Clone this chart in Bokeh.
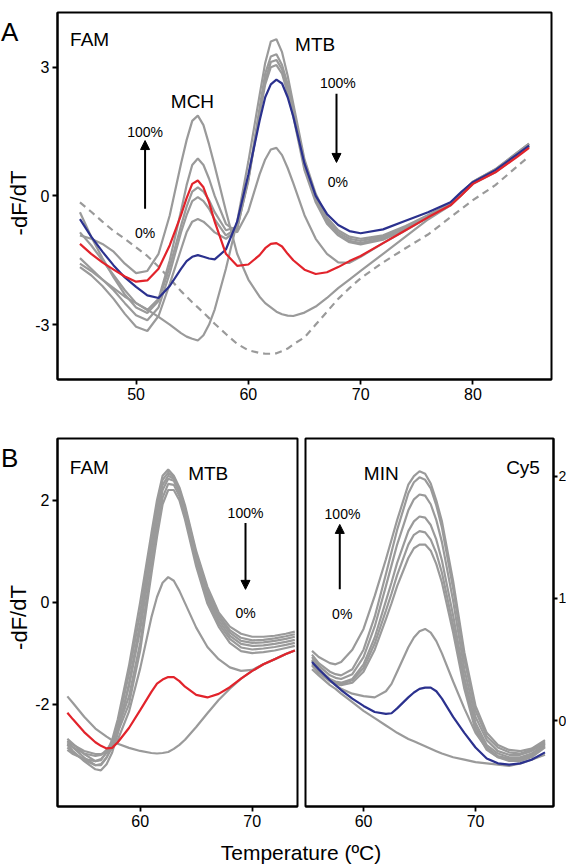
from bokeh.plotting import figure
from bokeh.models import Range1d, Label, Arrow, NormalHead, FixedTicker
from bokeh.layouts import column, row
from bokeh.embed import file_html
from bokeh.resources import INLINE

FONT = "Liberation Sans"
GRAY = "#9a9a9a"
RED = "#e2232b"
BLUE = "#2b318e"

# ---------------- Panel A (FAM: MCH + MTB) ----------------
A_TEMP = [45, 46, 47, 48, 49, 50, 51, 52, 53, 54, 54.5, 55, 55.5, 56, 56.5, 57, 58, 59, 60, 61,
          61.5, 62, 62.5, 63, 63.5, 64, 65, 66, 67, 68, 69, 70, 72, 74, 76, 78, 79, 80, 82, 84, 85]
A_BLANK = [-0.15, -0.37, -0.6, -0.82, -1.0, -1.2, -1.4, -1.65, -1.93, -2.22, -2.35, -2.48, -2.6, -2.72, -2.85, -2.98, -3.22, -3.45, -3.6, -3.66,
           -3.68, -3.68, -3.67, -3.62, -3.56, -3.46, -3.3, -3.0, -2.7, -2.4, -2.15, -1.92, -1.55, -1.22, -0.9, -0.5, -0.3, -0.1, 0.25, 0.7, 0.92]
A_G1 = [-0.92, -1.0, -1.12, -1.3, -1.58, -1.8, -1.75, -1.35, -0.45, 0.75, 1.3, 1.75, 1.87, 1.65, 1.2, 0.7, -0.35, -1.35, -1.95, -2.35,
        -2.5, -2.6, -2.7, -2.76, -2.79, -2.8, -2.72, -2.58, -2.38, -2.15, -1.95, -1.75, -1.35, -0.95, -0.55, -0.22, 0.02, 0.28, 0.55, 0.95, 1.15]
A_G2 = [-0.85, -1.15, -1.5, -1.85, -2.2, -2.5, -2.66, -2.4, -1.5, -0.35, 0.25, 0.72, 0.87, 0.72, 0.4, 0.0, -0.65, -0.85, -0.35, 0.5,
        0.85, 1.08, 1.12, 0.95, 0.65, 0.3, -0.45, -1.0, -1.35, -1.55, -1.56, -1.42, -1.1, -0.8, -0.5, -0.2, 0.05, 0.3, 0.57, 0.95, 1.15]
A_G3 = [-0.38, -0.95, -1.45, -1.9, -2.3, -2.6, -2.73, -2.45, -1.65, -0.7, -0.25, 0.1, 0.2, 0.1, -0.1, -0.38, -0.8, -0.72, 0.4, 1.9,
        2.6, 3.0, 3.05, 2.85, 2.4, 1.85, 0.6, -0.15, -0.65, -0.92, -1.08, -1.13, -1.02, -0.78, -0.5, -0.22, 0.05, 0.3, 0.58, 0.98, 1.17]
A_G4 = [-1.45, -1.7, -1.95, -2.2, -2.5, -2.78, -2.9, -2.6, -1.8, -0.85, -0.45, -0.12, -0.03, -0.12, -0.3, -0.55, -0.92, -0.75, 0.35, 1.95,
        2.7, 3.12, 3.17, 2.95, 2.5, 1.95, 0.7, -0.1, -0.6, -0.9, -1.05, -1.1, -0.98, -0.75, -0.48, -0.2, 0.07, 0.32, 0.6, 1.0, 1.2]
A_G5 = [-1.66, -1.85, -2.1, -2.4, -2.75, -3.05, -3.15, -2.8, -2.05, -1.25, -0.85, -0.6, -0.54, -0.6, -0.72, -0.85, -1.0, -0.78, 0.4, 2.05,
        2.85, 3.25, 3.3, 3.05, 2.6, 2.05, 0.78, -0.05, -0.55, -0.85, -1.0, -1.05, -0.95, -0.72, -0.45, -0.18, 0.08, 0.33, 0.62, 1.02, 1.22]
A_G6 = [-1.58, -1.75, -1.95, -2.15, -2.35, -2.5, -2.65, -2.82, -3.0, -3.2, -3.28, -3.33, -3.37, -3.25, -3.0, -2.65, -1.7, -0.6, 0.8, 2.35,
        3.1, 3.6, 3.65, 3.35, 2.8, 2.15, 0.85, 0.05, -0.5, -0.8, -0.95, -1.0, -0.92, -0.7, -0.45, -0.18, 0.08, 0.33, 0.62, 1.02, 1.22]
A_BLUE = [-0.54, -0.95, -1.3, -1.62, -1.9, -2.12, -2.32, -2.38, -2.1, -1.7, -1.52, -1.42, -1.38, -1.42, -1.46, -1.48, -1.25, -0.6, 0.5, 1.75,
          2.3, 2.6, 2.71, 2.62, 2.3, 1.85, 0.75, 0.0, -0.42, -0.68, -0.82, -0.87, -0.78, -0.58, -0.38, -0.15, 0.1, 0.32, 0.6, 0.98, 1.17]
A_RED = [-1.12, -1.35, -1.55, -1.72, -1.88, -2.0, -1.97, -1.7, -1.15, -0.45, -0.05, 0.28, 0.36, 0.2, -0.15, -0.6, -1.35, -1.63, -1.6, -1.38,
         -1.22, -1.12, -1.1, -1.18, -1.35, -1.5, -1.72, -1.82, -1.78, -1.66, -1.52, -1.4, -1.1, -0.8, -0.5, -0.22, 0.02, 0.28, 0.55, 0.92, 1.12]
A_XTICKS = [50, 60, 70, 80]
A_YTICKS = [-3, 0, 3]

# ---------------- Panel B left (FAM: MTB) ----------------
B_TEMP = [53.5, 54, 55, 56, 56.5, 57, 57.5, 58, 59, 60, 61, 61.5, 62, 62.5, 63, 63.5, 64, 65, 66, 67,
          68, 69, 70, 71, 72, 73, 73.8]
B_H1 = [-2.68, -2.78, -2.98, -3.12, -3.1, -2.95, -2.7, -2.3, -1.25, 0.0, 1.35, 2.0, 2.48, 2.6, 2.48, 2.25, 1.9, 1.0, 0.3, -0.2,
        -0.48, -0.62, -0.68, -0.68, -0.66, -0.62, -0.58]
B_H2 = [-2.75, -2.85, -3.05, -3.2, -3.2, -3.05, -2.8, -2.42, -1.4, -0.2, 1.2, 1.88, 2.4, 2.54, 2.45, 2.2, 1.85, 0.95, 0.25, -0.25,
        -0.55, -0.7, -0.75, -0.74, -0.71, -0.67, -0.63]
B_H3 = [-2.8, -2.92, -3.12, -3.28, -3.3, -3.18, -2.95, -2.58, -1.6, -0.4, 1.05, 1.72, 2.3, 2.48, 2.42, 2.18, 1.8, 0.9, 0.18, -0.3,
        -0.6, -0.76, -0.8, -0.79, -0.76, -0.72, -0.68]
B_H4 = [-2.85, -2.95, -3.1, -3.2, -3.18, -3.05, -2.85, -2.5, -1.65, -0.55, 0.9, 1.6, 2.2, 2.42, 2.38, 2.15, 1.75, 0.85, 0.12, -0.36,
        -0.66, -0.82, -0.86, -0.85, -0.82, -0.78, -0.74]
B_H5 = [-2.9, -2.98, -3.08, -3.12, -3.08, -2.95, -2.75, -2.48, -1.85, -0.8, 0.7, 1.42, 2.05, 2.32, 2.3, 2.08, 1.7, 0.78, 0.05, -0.42,
        -0.72, -0.89, -0.93, -0.91, -0.88, -0.84, -0.8]
B_H6 = [-2.78, -2.85, -2.97, -3.02, -3.0, -2.9, -2.75, -2.55, -2.0, -0.95, 0.55, 1.28, 1.92, 2.2, 2.2, 2.0, 1.62, 0.7, -0.03, -0.48,
        -0.8, -0.96, -1.0, -0.98, -0.95, -0.9, -0.86]
B_MID = [-2.72, -2.8, -2.92, -2.98, -2.98, -2.95, -2.88, -2.7, -2.15, -1.3, -0.3, 0.1, 0.38, 0.49, 0.42, 0.22, -0.02, -0.5, -0.88, -1.12,
         -1.28, -1.35, -1.33, -1.22, -1.12, -1.02, -0.95]
B_FLAT = [-1.85, -1.98, -2.25, -2.48, -2.56, -2.64, -2.71, -2.78, -2.86, -2.92, -2.96, -2.97, -2.96, -2.94, -2.88, -2.8, -2.7, -2.45, -2.18, -1.92,
          -1.7, -1.5, -1.35, -1.22, -1.12, -1.02, -0.95]
B_RED = [-2.17, -2.3, -2.55, -2.75, -2.82, -2.87, -2.86, -2.75, -2.47, -2.12, -1.76, -1.6, -1.52, -1.47, -1.47, -1.55, -1.66, -1.82, -1.87, -1.8,
         -1.67, -1.5, -1.35, -1.22, -1.12, -1.02, -0.95]
B_XTICKS = [60, 70]
B_YTICKS = [-2, 0, 2]

# ---------------- Panel B right (Cy5: MIN) ----------------
C_TEMP = [55.4, 56, 57, 57.5, 58, 59, 60, 61, 62, 62.5, 63, 64, 64.5, 65, 65.5, 66, 66.5, 67, 68, 69,
          70, 71, 72, 73, 74, 75, 76.2]
C_P1 = [0.57, 0.52, 0.47, 0.46, 0.48, 0.58, 0.75, 1.02, 1.32, 1.48, 1.64, 1.93, 2.0, 2.04, 2.02, 1.94, 1.8, 1.63, 1.14, 0.56,
        0.12, -0.1, -0.2, -0.24, -0.25, -0.23, -0.16]
C_P2 = [0.54, 0.47, 0.4, 0.38, 0.37, 0.42, 0.58, 0.85, 1.2, 1.38, 1.56, 1.86, 1.95, 1.99, 1.97, 1.9, 1.76, 1.58, 1.08, 0.5,
        0.08, -0.13, -0.22, -0.26, -0.27, -0.24, -0.17]
C_P3 = [0.52, 0.45, 0.37, 0.35, 0.34, 0.38, 0.52, 0.77, 1.1, 1.27, 1.44, 1.72, 1.81, 1.85, 1.84, 1.77, 1.64, 1.46, 0.98, 0.42,
        0.03, -0.16, -0.25, -0.28, -0.28, -0.25, -0.18]
C_P4 = [0.49, 0.42, 0.34, 0.32, 0.31, 0.34, 0.46, 0.68, 0.98, 1.13, 1.29, 1.55, 1.63, 1.67, 1.66, 1.6, 1.48, 1.31, 0.86, 0.35,
        -0.02, -0.2, -0.27, -0.3, -0.3, -0.27, -0.19]
C_P5 = [0.46, 0.4, 0.33, 0.31, 0.3, 0.33, 0.43, 0.63, 0.9, 1.04, 1.19, 1.44, 1.52, 1.55, 1.54, 1.48, 1.37, 1.21, 0.78, 0.3,
        -0.05, -0.22, -0.29, -0.31, -0.31, -0.28, -0.2]
C_P6 = [0.45, 0.39, 0.32, 0.3, 0.29, 0.31, 0.4, 0.58, 0.83, 0.96, 1.1, 1.33, 1.41, 1.44, 1.44, 1.39, 1.28, 1.13, 0.72, 0.26,
        -0.08, -0.24, -0.3, -0.32, -0.32, -0.29, -0.21]
C_MID = [0.5, 0.43, 0.33, 0.29, 0.26, 0.22, 0.2, 0.19, 0.24, 0.3, 0.4, 0.6, 0.68, 0.73, 0.75, 0.72, 0.65, 0.55, 0.32, 0.1,
         -0.1, -0.23, -0.3, -0.33, -0.33, -0.3, -0.22]
C_BLUE = [0.48, 0.42, 0.33, 0.29, 0.25, 0.18, 0.12, 0.07, 0.055, 0.06, 0.1, 0.19, 0.23, 0.26, 0.27, 0.27, 0.24, 0.18, 0.03, -0.1,
          -0.22, -0.31, -0.35, -0.36, -0.35, -0.32, -0.26]
C_FLAT = [0.42, 0.37, 0.29, 0.26, 0.22, 0.15, 0.08, 0.02, -0.04, -0.07, -0.1, -0.15, -0.17, -0.19, -0.21, -0.23, -0.25, -0.27, -0.3, -0.32,
          -0.34, -0.35, -0.36, -0.37, -0.35, -0.32, -0.28]
C_XTICKS = [60, 70]
C_YTICKS = [0, 1, 2]

# pixel layout
A_TOP, A_FH, A_BOT = 12, 367, 40       # panel A: top border, frame height, bottom border
B_TOP, B_FH, B_BOT = 19, 368, 26       # panel B: top border, frame height, bottom border
ROW1 = A_TOP + A_FH + A_BOT            # 419
ROW2 = B_TOP + B_FH + B_BOT            # 413
TTL_H = 864 - ROW1 - ROW2              # 32


def make_fig(xr, yr, fw, fh, mbl, mbr, mbt, mbb, xticks, yticks, y_loc="left"):
    p = figure(title=None, x_range=Range1d(*xr), y_range=Range1d(*yr), frame_width=fw, frame_height=fh,
               min_border_left=mbl, min_border_right=mbr, min_border_top=mbt, min_border_bottom=mbb,
               output_backend="svg", toolbar_location=None, y_axis_location=y_loc)
    p.grid.visible = False
    p.outline_line_color = "black"
    p.outline_line_width = 2
    p.outline_line_alpha = 1.0
    p.background_fill_color = "white"
    p.border_fill_color = "white"
    p.xaxis.ticker = FixedTicker(ticks=xticks)
    p.yaxis.ticker = FixedTicker(ticks=yticks)
    p.xaxis.major_label_overrides = {t: str(t) for t in xticks}
    p.yaxis.major_label_overrides = {t: str(t) for t in yticks}
    for ax in p.axis:
        ax.axis_line_width = 2
        ax.axis_line_color = "black"
        ax.major_tick_line_width = 1.8
        ax.major_tick_line_color = "black"
        ax.major_tick_out = 5
        ax.major_tick_in = 0
        ax.minor_tick_line_color = None
        ax.major_label_text_font = FONT
        ax.major_label_text_font_size = "16px"
        ax.major_label_text_color = "black"
        ax.major_label_standoff = 3
        ax.axis_label_standoff = 0
    return p


def text_fig(w, fh, mbt=0, mbb=0):
    # a bare figure (no title, no axes) used only to hold texts; y in pixels up from its frame bottom
    p = figure(title=None, x_range=Range1d(0, w), y_range=Range1d(0, fh), frame_width=w, frame_height=fh,
               min_border_left=0, min_border_right=0, min_border_top=mbt, min_border_bottom=mbb,
               output_backend="svg", toolbar_location=None, x_axis_location=None, y_axis_location=None)
    p.grid.visible = False
    p.outline_line_color = None
    p.background_fill_color = "white"
    p.border_fill_color = "white"
    return p


def lab(p, x, y, text, size, align="center", baseline="alphabetic", angle=0.0):
    p.add_layout(Label(x=x, y=y, text=text, text_font=FONT, text_font_size=f"{size}px",
                       text_align=align, text_baseline=baseline, angle=angle, text_color="black"))


def arrow(p, x, y0, y1):
    p.add_layout(Arrow(end=NormalHead(size=9, fill_color="black", line_color="black", line_width=1),
                       x_start=x, y_start=y0, x_end=x, y_end=y1, line_width=2, line_color="black"))


LW = 2.2

# ---- Panel A ----
pa = make_fig((43, 87), (-4.28, 4.275), 494, A_FH, 24, 14, A_TOP, A_BOT, A_XTICKS, A_YTICKS)
for ys in (A_G1, A_G2, A_G3, A_G4, A_G5, A_G6):
    pa.line(A_TEMP, ys, line_color=GRAY, line_width=LW)
pa.line(A_TEMP, A_BLANK, line_color=GRAY, line_width=LW, line_dash="7 5")
pa.line(A_TEMP, A_BLUE, line_color=BLUE, line_width=LW)
pa.line(A_TEMP, A_RED, line_color=RED, line_width=LW)
lab(pa, 44.12, 3.64, "FAM", 19, align="left")
lab(pa, 65.95, 3.52, "MTB", 19)
lab(pa, 55.02, 2.2, "MCH", 19)
lab(pa, 50.8, 1.5, "100%", 14)
lab(pa, 50.8, -0.86, "0%", 14)
arrow(pa, 50.8, -0.30, 1.29)
lab(pa, 67.97, 2.63, "100%", 14)
lab(pa, 67.97, 0.33, "0%", 14)
arrow(pa, 67.85, 2.38, 0.78)

# left strip of panel A (same vertical structure as panel A; y = pixels above the frame bottom at 379)
ta = text_fig(32, A_FH, A_TOP, A_BOT)
lab(ta, 0.5, 379 - 31, "A", 26, align="left")
lab(ta, 18.5, 379 - 202.5, "-dF/dT", 22, baseline="middle", angle=1.5708)

# ---- Panel B left ----
pb = make_fig((52.62, 74.04), (-4.01, 3.21), 240, B_FH, 24, 4, B_TOP, B_BOT, B_XTICKS, B_YTICKS)
for ys in (B_H1, B_H2, B_H3, B_H4, B_H5, B_H6, B_MID, B_FLAT):
    pb.line(B_TEMP, ys, line_color=GRAY, line_width=LW)
pb.line(B_TEMP, B_RED, line_color=RED, line_width=LW)
lab(pb, 53.72, 2.64, "FAM", 19, align="left")
lab(pb, 66.07, 2.52, "MTB", 19)
lab(pb, 69.4, 1.74, "100%", 14)
lab(pb, 69.4, -0.22, "0%", 14)
arrow(pb, 69.4, 1.55, 0.25)

# left strip of panel B (same vertical structure as panel B; y = pixels above the frame bottom at 806)
tb = text_fig(32, B_FH, B_TOP, B_BOT)
lab(tb, 0.5, 806 - 457, "B", 26, align="left")
lab(tb, 18.5, 806 - 617, "-dF/dT", 22, baseline="middle", angle=1.5708)

# ---- Panel B right ----
pc = make_fig((54.82, 76.96), (-0.703, 2.308), 248, B_FH, 4, 12, B_TOP, B_BOT, C_XTICKS, C_YTICKS, y_loc="right")
for ys in (C_P1, C_P2, C_P3, C_P4, C_P5, C_P6, C_MID, C_FLAT):
    pc.line(C_TEMP, ys, line_color=GRAY, line_width=LW)
pc.line(C_TEMP, C_BLUE, line_color=BLUE, line_width=LW)
pc.yaxis.major_label_text_font_size = "14px"
pc.yaxis.major_label_standoff = 1
pc.yaxis.major_tick_out = 4
lab(pc, 61.58, 2.02, "MIN", 19)
lab(pc, 74.24, 2.07, "Cy5", 19)
lab(pc, 58.12, 1.69, "100%", 14)
lab(pc, 58.1, 0.876, "0%", 14)
arrow(pc, 57.88, 1.075, 1.605)

# ---- shared x-axis title (baseline 19.5 px below the top of its strip) ----
pt = text_fig(564, TTL_H)
lab(pt, 300.5, TTL_H - 19.5, "Temperature (\u00baC)", 21)

layout = column(row(ta, pa), row(tb, pb, pc), pt)
open("out.html", "w").write(file_html(layout, INLINE))
